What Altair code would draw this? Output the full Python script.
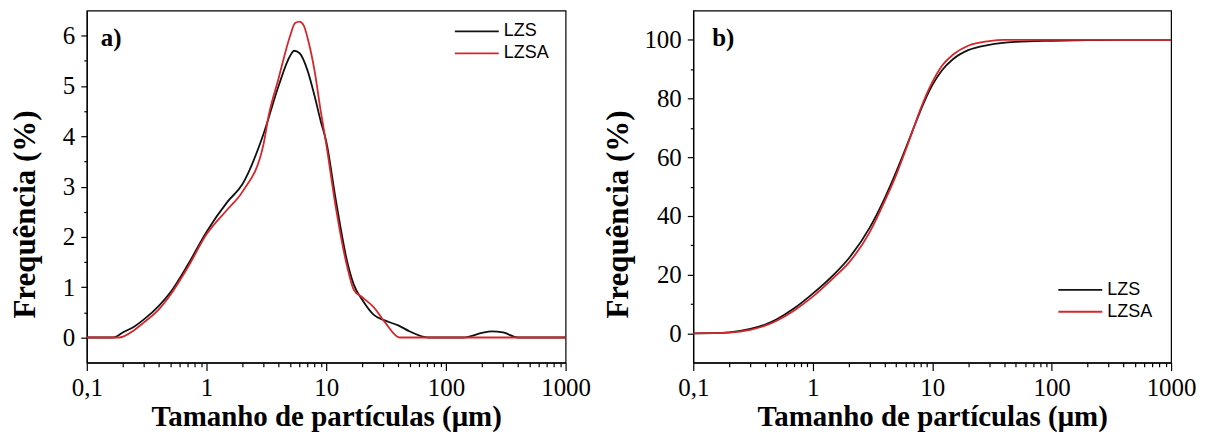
import altair as alt
import pandas as pd

# ---------------- data ----------------
series_names = ["LZS", "LZSA"]
series_colors = ["#111111", "#d7262b"]
panel_labels = ["a)", "b)"]

# a) frequency distribution (%)
freq_lzs_d = [0.1, 0.168, 0.2, 0.25, 0.3, 0.4, 0.5, 0.7, 1.0, 1.5, 2.0, 3.0, 4.0, 5.0, 5.4,
              6.0, 7.0, 8.0, 9.0, 10.0, 12.0, 15.0, 17.0, 20.0, 25.0, 30.0, 40.0, 50.0, 71.0,
              140.0, 200.0, 240.0, 300.0, 400.0, 1000.0]
freq_lzs_v = [0.0, 0.0, 0.1, 0.22, 0.36, 0.63, 0.9, 1.45, 2.1, 2.7, 3.05, 4.05, 5.0, 5.6, 5.7,
              5.65, 5.3, 4.8, 4.3, 3.9, 2.75, 1.5, 1.05, 0.75, 0.45, 0.35, 0.24, 0.12, 0.0,
              0.0, 0.09, 0.12, 0.1, 0.0, 0.0]
freq_lzsa_d = [0.1, 0.188, 0.25, 0.3, 0.4, 0.5, 0.7, 1.0, 1.5, 2.0, 3.0, 3.3, 4.0, 5.0, 5.5,
               6.0, 6.5, 7.0, 8.0, 9.0, 10.0, 12.0, 15.0, 17.0, 20.0, 25.0, 31.0, 41.0, 1000.0]
freq_lzsa_v = [0.0, 0.0, 0.15, 0.3, 0.56, 0.85, 1.4, 2.05, 2.55, 2.9, 3.85, 4.4, 5.15, 6.0, 6.25,
               6.28, 6.2, 5.95, 5.3, 4.5, 3.85, 2.6, 1.4, 0.95, 0.8, 0.6, 0.3, 0.0, 0.0]

# b) cumulative distribution (%)
cum_lzs_d = [0.1, 0.15, 0.2, 0.3, 0.4, 0.5, 0.7, 1.0, 1.5, 2.0, 3.0, 4.0, 5.0, 6.0, 7.0, 8.0,
             10.0, 12.0, 15.0, 20.0, 30.0, 50.0, 100.0, 200.0, 400.0, 1000.0]
cum_lzs_v = [0.0, 0.05, 0.3, 1.5, 3.0, 4.8, 8.5, 13.5, 20.0, 25.5, 36.0, 46.0, 55.0, 63.0, 70.0, 76.0,
             84.5, 89.5, 93.5, 96.5, 98.3, 99.3, 99.7, 99.9, 100.0, 100.0]
cum_lzsa_d = [0.1, 0.15, 0.2, 0.3, 0.4, 0.5, 0.7, 1.0, 1.5, 2.0, 3.0, 4.0, 5.0, 6.0, 7.0, 8.0,
              10.0, 12.0, 15.0, 20.0, 30.0, 40.0, 1000.0]
cum_lzsa_v = [0.0, 0.03, 0.2, 1.2, 2.6, 4.3, 7.8, 12.5, 19.0, 24.0, 34.5, 45.0, 54.0, 62.5, 70.0, 76.5,
              85.5, 91.0, 95.0, 98.0, 99.6, 100.0, 100.0]

x_ticks = [0.1, 0.2, 0.3, 0.4, 0.5, 0.6, 0.7, 0.8, 0.9,
           1, 2, 3, 4, 5, 6, 7, 8, 9,
           10, 20, 30, 40, 50, 60, 70, 80, 90,
           100, 200, 300, 400, 500, 600, 700, 800, 900, 1000]
y_ticks_a = [0, 0.5, 1, 1.5, 2, 2.5, 3, 3.5, 4, 4.5, 5, 5.5, 6]
y_ticks_b = [0, 10, 20, 30, 40, 50, 60, 70, 80, 90, 100]

x_title = "Tamanho de partículas (μm)"
y_title = "Frequência (%)"

SERIF = "Liberation Serif"
SANS = "Liberation Sans"


def frame(ds, vs, name):
    return pd.DataFrame({"d": ds, "v": vs, "s": name})


df_a = pd.concat([frame(freq_lzs_d, freq_lzs_v, series_names[0]),
                  frame(freq_lzsa_d, freq_lzsa_v, series_names[1])])
df_b = pd.concat([frame(cum_lzs_d, cum_lzs_v, series_names[0]),
                  frame(cum_lzsa_d, cum_lzsa_v, series_names[1])])

x_major = "abs(log(datum.value)/LN10 - round(log(datum.value)/LN10)) < 0.001"


def x_axis():
    return alt.Axis(
        values=x_ticks,
        labelExpr="datum.value == 0.1 ? '0,1' : ((" + x_major + ") ? format(datum.value, 'd') : '')",
        tickSize={"condition": {"test": x_major, "value": 8}, "value": 4},
        labelOverlap=False, labelFlush=False, labelPadding=5,
        titlePadding=2, titleFontSize=29,
    )


def y_axis(values, major_test, title_pad):
    return alt.Axis(
        values=values,
        labelExpr="(" + major_test + ") ? format(datum.value, 'd') : ''",
        tickSize={"condition": {"test": major_test, "value": 6}, "value": 3},
        labelOverlap=False, labelFlush=False, labelPadding=6,
        titlePadding=title_pad, titleFontSize=31, titleY=204,
    )


def panel(df, ydomain, yvals, ymajor, title_pad, leg_x, leg_y, label, label_x, width):
    lines = alt.Chart(df).mark_line(strokeWidth=1.8, interpolate="monotone").encode(
        x=alt.X("d:Q", title=x_title,
                scale=alt.Scale(type="log", domain=[0.1, 1000], nice=False),
                axis=x_axis()),
        y=alt.Y("v:Q", title=y_title,
                scale=alt.Scale(domain=ydomain, nice=False, zero=False),
                axis=y_axis(yvals, ymajor, title_pad)),
        color=alt.Color("s:N",
                        scale=alt.Scale(domain=series_names, range=series_colors),
                        legend=alt.Legend(title=None, orient="none", legendX=leg_x, legendY=leg_y,
                                          symbolType="stroke", symbolSize=1936,
                                          symbolStrokeWidth=1.8, clipHeight=22,
                                          rowPadding=0, labelOffset=4, padding=0,
                                          labelFont=SANS, labelFontSize=18,
                                          labelColor="black")),
    )
    txt = alt.Chart(pd.DataFrame({"t": [label]})).mark_text(
        font=SERIF, fontSize=25, fontWeight="bold", align="left",
        baseline="alphabetic", color="black",
    ).encode(text="t:N", x=alt.value(label_x), y=alt.value(36))
    return alt.layer(lines, txt).properties(width=width, height=353)


left = panel(df_a, [-0.5, 6.5], y_ticks_a, "datum.value % 1 == 0", 21, 368, 10,
             panel_labels[0], 14, 480)
right = panel(df_b, [-10, 110], y_ticks_b, "datum.value % 20 == 0", 9, 365, 269,
              panel_labels[1], 19, 479)

chart = alt.hconcat(left, right, spacing=128, bounds="flush").resolve_legend(
    color="independent"
).properties(
    padding={"left": 0, "top": 1, "right": 2, "bottom": 0}
).configure_axis(
    domainColor="black", tickColor="black", labelColor="black", titleColor="black",
    labelFont=SERIF, titleFont=SERIF, labelFontSize=25,
    titleFontWeight="bold", grid=False, domainWidth=1.2, tickWidth=1.2,
).configure_view(stroke="black", strokeWidth=1.2)

chart.save("out.html", embed_options={"renderer": "svg", "actions": False})
